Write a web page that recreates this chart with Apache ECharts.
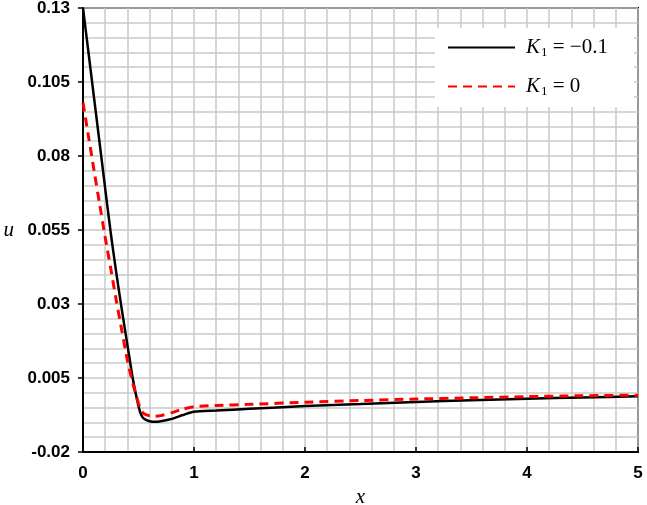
<!DOCTYPE html>
<html>
<head>
<meta charset="utf-8">
<script src="https://cdn.jsdelivr.net/npm/echarts@6/dist/echarts.min.js"></script>
<style>html,body{margin:0;padding:0;background:#fff}#c{width:647px;height:505px}</style>
</head>
<body>
<div id="c"></div>
<script>
var xBlack = [0, 0.05, 0.1, 0.15, 0.2, 0.25, 0.3, 0.35, 0.4, 0.45, 0.5, 0.525, 0.55, 0.6, 0.65, 0.7, 0.8, 0.9, 1.0, 1.2, 1.5, 2.0, 2.5, 3.0, 3.5, 4.0, 4.5, 5.0];
var uBlack = [0.13, 0.1148, 0.0995, 0.0843, 0.069, 0.054, 0.0405, 0.028, 0.0162, 0.0045, -0.0045, -0.0075, -0.0088, -0.0096, -0.0098, -0.0096, -0.0088, -0.0075, -0.0064, -0.006, -0.0054, -0.0045, -0.0038, -0.0031, -0.0025, -0.002, -0.0016, -0.0012];
var xRed = [0, 0.05, 0.1, 0.15, 0.2, 0.25, 0.3, 0.35, 0.4, 0.45, 0.5, 0.525, 0.55, 0.6, 0.65, 0.7, 0.8, 0.9, 1.0, 1.2, 1.5, 2.0, 2.5, 3.0, 3.5, 4.0, 4.5, 5.0];
var uRed = [0.098, 0.0865, 0.075, 0.0637, 0.0525, 0.042, 0.0312, 0.021, 0.011, 0.003, -0.0035, -0.006, -0.0071, -0.0078, -0.0079, -0.0077, -0.0067, -0.0055, -0.0047, -0.0043, -0.0039, -0.0032, -0.0026, -0.0021, -0.0017, -0.0013, -0.001, -0.0008];
var seriesNames = ['K1 = -0.1', 'K1 = 0'];
var legendLabels = ['{i|K}{s|1}{n| = \u22120.1}', '{i|K}{s|1}{n| = 0}'];

function pairs(xs, ys) { return xs.map(function (x, i) { return [x, ys[i]]; }); }

var chart = echarts.init(document.getElementById('c'));
var gridLine = { show: true, lineStyle: { color: '#cacaca', width: 1.5 } };
chart.setOption({
  animation: false,
  grid: { left: 83, right: 9, top: 8, bottom: 53, outerBoundsMode: 'none', containLabel: false,
    show: true, borderColor: '#000', borderWidth: 2, backgroundColor: 'transparent' },
  xAxis: {
    type: 'value', min: 0, max: 5, interval: 1,
    name: 'x', nameLocation: 'middle', nameGap: 31,
    nameTextStyle: { fontFamily: 'Liberation Serif', fontStyle: 'italic', fontSize: 21, color: '#000' },
    axisLine: { show: true, onZero: false, lineStyle: { color: '#000', width: 2 } },
    axisTick: { show: true, inside: true, length: 5, lineStyle: { color: '#000', width: 1.5 } },
    minorTick: { show: true, splitNumber: 5, length: 0 },
    axisLabel: { fontFamily: 'Liberation Sans', fontWeight: 'bold', fontSize: 17, color: '#000', margin: 13 },
    splitLine: gridLine, minorSplitLine: gridLine
  },
  yAxis: {
    type: 'value', min: -0.02, max: 0.13, interval: 0.025,
    name: 'u', nameLocation: 'middle', nameGap: 69, nameRotate: 0,
    nameTextStyle: { fontFamily: 'Liberation Serif', fontStyle: 'italic', fontSize: 21, color: '#000', padding: [10, 0, 0, 0] },
    axisLine: { show: true, onZero: false, lineStyle: { color: '#000', width: 2 } },
    axisTick: { show: true, length: 5, lineStyle: { color: '#000', width: 1.5 } },
    minorTick: { show: true, splitNumber: 5, length: 0 },
    axisLabel: { fontFamily: 'Liberation Sans', fontWeight: 'bold', fontSize: 17, color: '#000', margin: 13,
      formatter: function (v) { return String(parseFloat(v.toFixed(3))); } },
    splitLine: gridLine, minorSplitLine: gridLine
  },
  legend: {
    orient: 'vertical', left: 435, top: 28,
    backgroundColor: '#fff', padding: [9, 26, 9, 12], itemGap: 17,
    itemWidth: 67, itemHeight: 14,
    itemStyle: { opacity: 0 },
    data: [seriesNames[0], seriesNames[1]],
    formatter: function (n) { return legendLabels[seriesNames.indexOf(n)]; },
    textStyle: {
      color: '#000', padding: [0, 0, 0, 6],
      rich: {
        i: { fontFamily: 'Liberation Serif', fontStyle: 'italic', fontSize: 21, color: '#000' },
        s: { fontFamily: 'Liberation Serif', fontSize: 13, color: '#000', verticalAlign: 'bottom', padding: [10, 0, 0, 1] },
        n: { fontFamily: 'Liberation Serif', fontSize: 21, color: '#000' }
      }
    }
  },
  series: [
    { name: seriesNames[0], type: 'line', data: pairs(xBlack, uBlack), smooth: 0.25, showSymbol: false, symbol: 'none',
      lineStyle: { color: '#000', width: 2.5 }, itemStyle: { color: '#000' }, z: 3 },
    { name: seriesNames[1], type: 'line', data: pairs(xRed, uRed), smooth: 0.25, showSymbol: false, symbol: 'none',
      lineStyle: { color: '#ff0000', width: 3, type: [9, 6] }, itemStyle: { color: '#ff0000' }, z: 4 }
  ]
});
</script>
</body>
</html>
